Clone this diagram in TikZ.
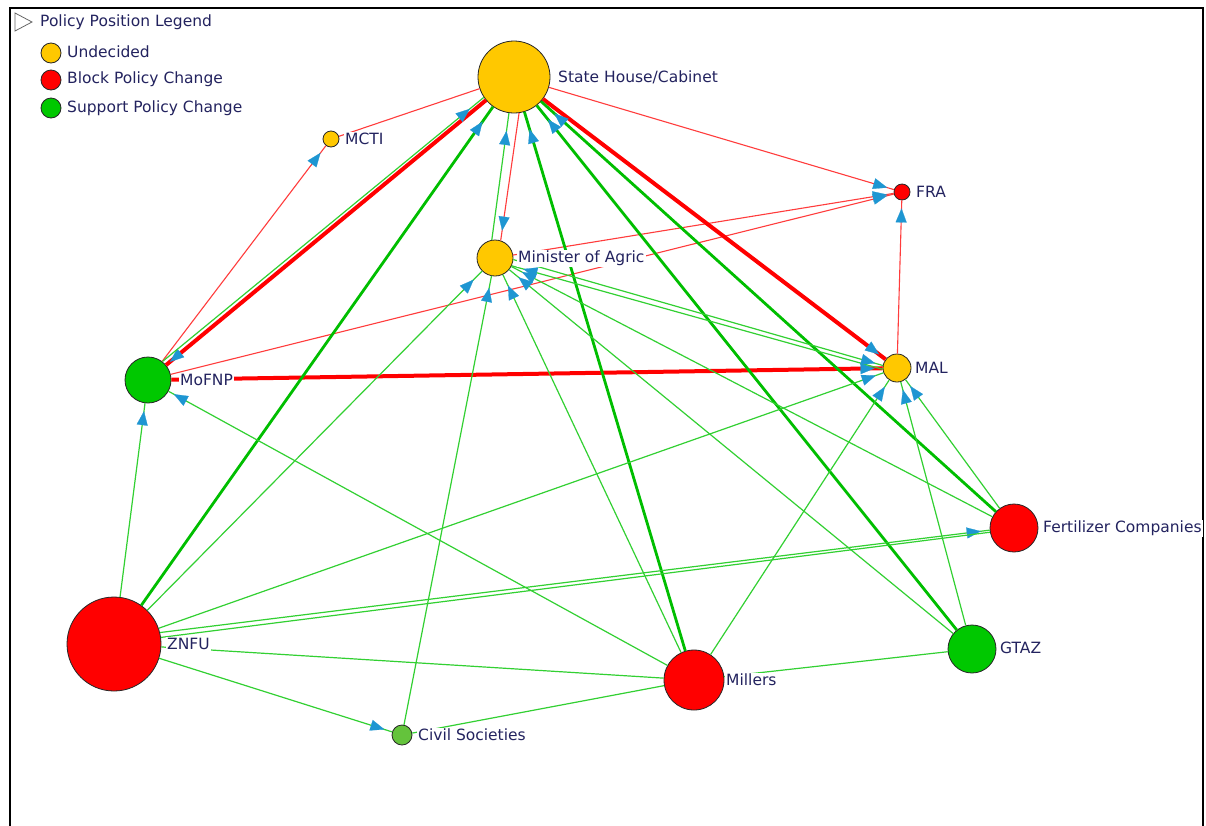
\documentclass[tikz,border=0pt]{standalone}
\usepackage{fontspec}
\newfontfamily\lblfont{DejaVu Sans}
\usetikzlibrary{arrows.meta,decorations.markings}
\definecolor{nodeyellow}{RGB}{255,200,0}
\definecolor{nodered}{RGB}{255,0,0}
\definecolor{nodegreen}{RGB}{0,200,0}
\definecolor{civgreen}{RGB}{100,195,60}
\definecolor{arrowblue}{RGB}{30,150,210}
\definecolor{redthin}{RGB}{255,60,60}
\definecolor{redthick}{RGB}{255,0,0}
\definecolor{greenthin}{RGB}{50,208,50}
\definecolor{greenthick}{RGB}{0,190,0}
\definecolor{txtcol}{RGB}{35,35,95}
\tikzset{
  actor/.style={circle, draw=black!85, line width=0.8pt, inner sep=0pt, minimum size=#1},
  lbl/.style={anchor=west, fill=white, inner sep=1pt, text=txtcol, font={\lblfont\fontsize{15.5}{18}\selectfont}},
  legtext/.style={anchor=west, inner sep=0pt, text=txtcol, font={\lblfont\fontsize{15.5}{18}\selectfont}},
  rthin/.style={draw=redthin, line width=1.1pt},
  rthick/.style={draw=redthick, line width=4pt},
  gthin/.style={draw=greenthin, line width=1.2pt},
  gthick/.style={draw=greenthick, line width=2.8pt},
  arr/.style={postaction={decorate,decoration={markings,
      mark=at position -#1 with {\arrow{Triangle[length=14pt,width=11pt,line width=0.2pt,color=arrowblue]}}}}},
  arr/.default=7pt
}
\begin{document}
\begin{tikzpicture}[x=1pt,y=-1pt]
\useasboundingbox (0,0) rectangle (1206,825);
\fill[white] (0,0) rectangle (1206,825);
% frame
\draw[black, line width=1.2pt] (10,830) -- (10,8) -- (1203,8) -- (1203,830);

% legend
\draw[black!60, line width=0.8pt, fill=white] (15,13) -- (32,22) -- (15,31) -- cycle;
\node[legtext] (lgtitle) at (40,22) {Policy Position Legend};
\node[actor=20pt, fill=nodeyellow] (lgU) at (51,53) {};
\node[legtext] (lgUt) at (67,52) {Undecided};
\node[actor=20pt, fill=nodered] (lgB) at (51,80) {};
\node[legtext] (lgBt) at (67,79) {Block Policy Change};
\node[actor=20pt, fill=nodegreen] (lgS) at (51,108) {};
\node[legtext] (lgSt) at (67,108) {Support Policy Change};

% actors
\node[actor=72pt, fill=nodeyellow] (SH) at (514,77) {};
\node[actor=16pt, fill=nodeyellow] (MCTI) at (331,139) {};
\node[actor=16pt, fill=nodered] (FRA) at (902,192) {};
\node[actor=36pt, fill=nodeyellow] (MIN) at (495,258) {};
\node[actor=46pt, fill=nodegreen] (MOF) at (148,380) {};
\node[actor=28pt, fill=nodeyellow] (MAL) at (897,368) {};
\node[actor=48pt, fill=nodered] (FERT) at (1014,528) {};
\node[actor=94pt, fill=nodered] (ZNFU) at (114,644) {};
\node[actor=60pt, fill=nodered] (MILL) at (694,680) {};
\node[actor=48pt, fill=nodegreen] (GTAZ) at (972,649) {};
\node[actor=20pt, fill=civgreen] (CIV) at (402,735) {};

% red ties
\draw[rthin] (SH) -- (MCTI);
\draw[rthin,arr=9pt] (MOF) -- (MCTI);
\draw[rthin,arr] (SH) -- (FRA);
\draw[rthin,arr] (MIN) -- (FRA);
\draw[rthin,arr] (MOF) -- (FRA);
\draw[rthin,arr=8pt] (MAL) -- (FRA);
\draw[rthick,arr=5pt] (SH) -- (MOF);
\draw[rthick,arr=8pt] (SH) -- (MAL);
\draw[rthick,arr=8pt] (MOF) -- (MAL);
\draw[rthin,arr=10pt] (SH.278) -- (MIN.72);

% green ties into State House
\draw[gthin,arr=18pt] (MOF.52) -- (SH.214);
\draw[gthick,arr=18pt] (ZNFU) -- (SH);
\draw[gthin,arr=18pt] (MIN.100) -- (SH.262);
\draw[gthick,arr=18pt] (MILL) -- (SH);
\draw[gthick,arr=18pt] (GTAZ) -- (SH);
\draw[gthick,arr=18pt] (FERT) -- (SH);

% into Minister of Agric
\draw[gthin,arr=12pt] (ZNFU) -- (MIN);
\draw[gthin,arr=12pt] (CIV) -- (MIN);
\draw[gthin,arr=12pt] (MILL) -- (MIN);
\draw[gthin,arr=12pt] (GTAZ) -- (MIN);
\draw[gthin,arr=12pt] (FERT) -- (MIN);
\draw[gthin,arr=12pt] (MAL.185) -- (MIN.-25);

% into MAL
\draw[gthin,arr=8pt] (MIN.-5) -- (MAL.170);
\draw[gthin,arr=8pt] (ZNFU) -- (MAL);
\draw[gthin,arr=8pt] (MILL) -- (MAL);
\draw[gthin,arr=8pt] (GTAZ) -- (MAL);
\draw[gthin,arr=8pt] (FERT) -- (MAL);

% into MoFNP
\draw[gthin,arr=8pt] (ZNFU) -- (MOF);
\draw[gthin,arr=6pt] (MILL) -- (MOF);

% others
\draw[gthin,arr=9pt] (ZNFU.14) -- (FERT.185);
\draw[gthin] (ZNFU.8) -- (FERT.190);
\draw[gthin,arr=8pt] (ZNFU) -- (CIV);
\draw[gthin] (ZNFU) -- (MILL);
\draw[gthin] (MILL) -- (CIV);
\draw[gthin] (GTAZ) -- (MILL);

% labels
\node[lbl] (tSH) at (557,77) {State House/Cabinet};
\node[lbl] (tMCTI) at (344,139) {MCTI};
\node[lbl] (tFRA) at (915,192) {FRA};
\node[lbl] (tMIN) at (517,258) {Minister of Agric};
\node[lbl] (tMOF) at (179,380) {MoFNP};
\node[lbl] (tMAL) at (914,368) {MAL};
\node[lbl] (tFERT) at (1042,528) {Fertilizer Companies};
\node[lbl] (tZNFU) at (166,644) {ZNFU};
\node[lbl] (tMILL) at (725,680) {Millers};
\node[lbl] (tGTAZ) at (999,648) {GTAZ};
\node[lbl] (tCIV) at (417,735) {Civil Societies};
\end{tikzpicture}
\end{document}
